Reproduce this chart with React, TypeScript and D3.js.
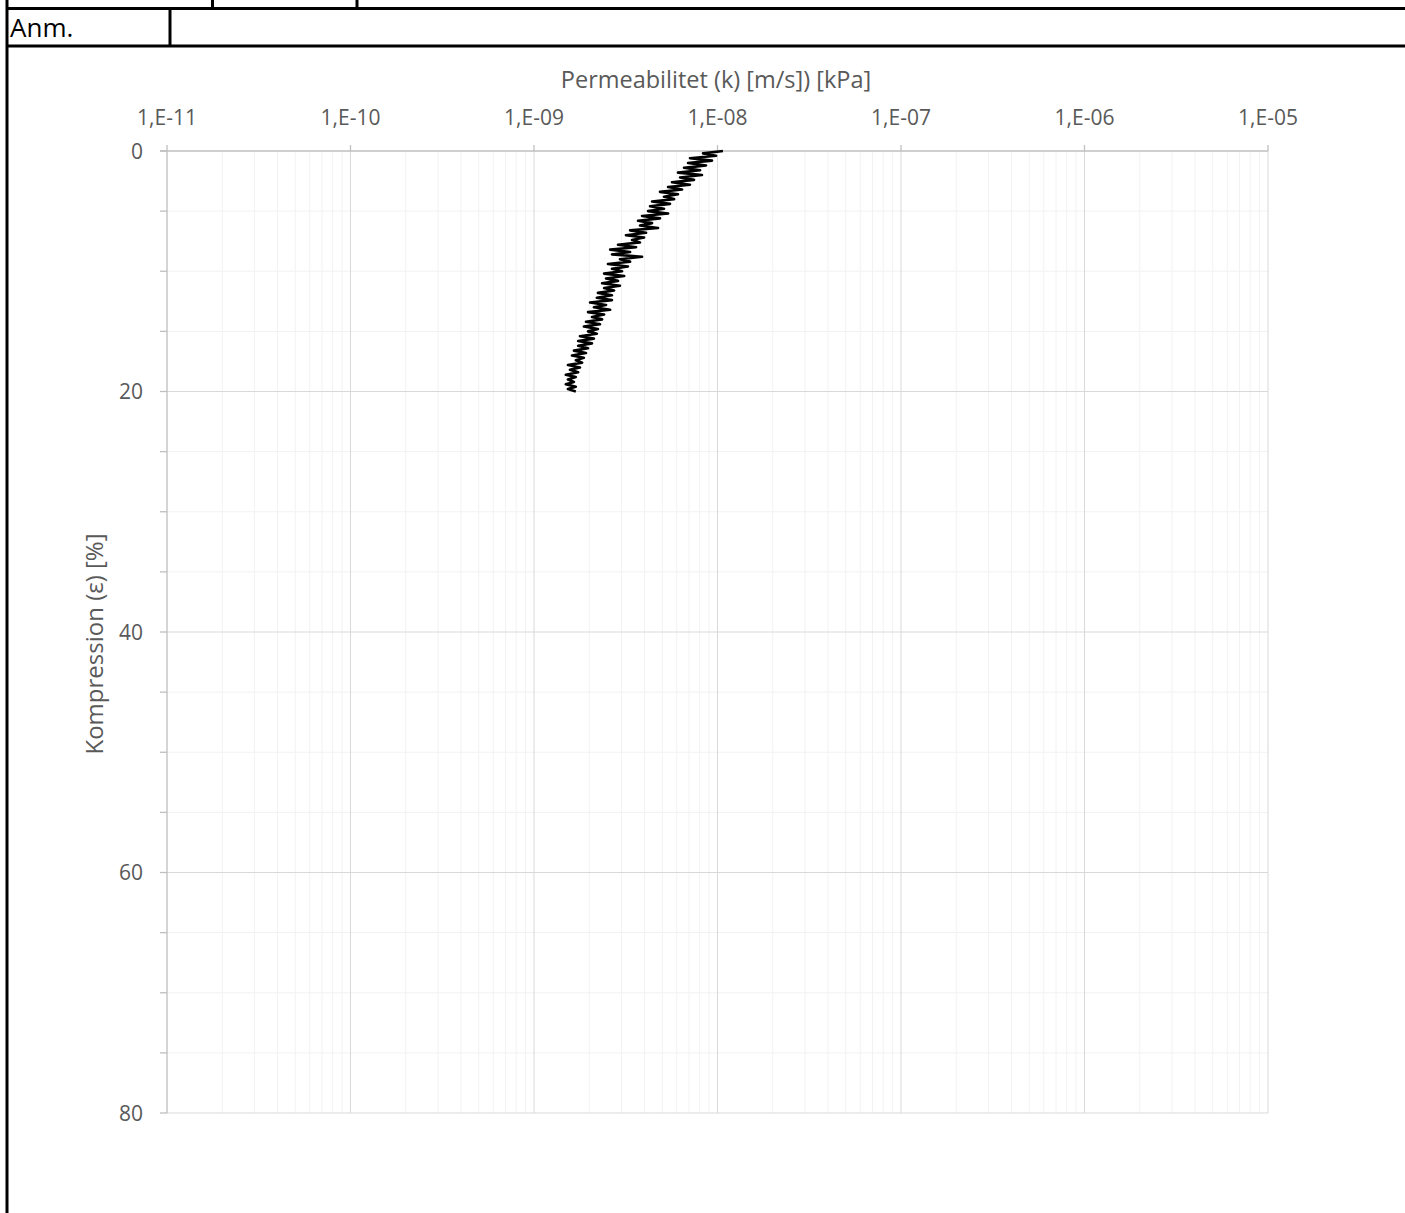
import React from "react";
import * as d3 from "d3";

// Kompression (%) vs permeabilitet (m/s)
const epsValues = [
  0, 0.2, 0.4, 0.6, 0.8, 1.0, 1.2, 1.4, 1.6, 1.8,
  2.0, 2.2, 2.4, 2.6, 2.8, 3.0, 3.2, 3.4, 3.6, 3.8,
  4.0, 4.2, 4.4, 4.6, 4.8, 5.0, 5.2, 5.4, 5.6, 5.8,
  6.0, 6.2, 6.4, 6.6, 6.8, 7.0, 7.2, 7.4, 7.6, 7.8,
  8.0, 8.2, 8.4, 8.6, 8.8, 9.0, 9.2, 9.4, 9.6, 9.8,
  10.0, 10.2, 10.4, 10.6, 10.8, 11.0, 11.2, 11.4, 11.6, 11.8,
  12.0, 12.2, 12.4, 12.6, 12.8, 13.0, 13.2, 13.4, 13.6, 13.8,
  14.0, 14.2, 14.4, 14.6, 14.8, 15.0, 15.2, 15.4, 15.6, 15.8,
  16.0, 16.2, 16.4, 16.6, 16.8, 17.0, 17.2, 17.4, 17.6, 17.8,
  18.0, 18.2, 18.4, 18.6, 18.8, 19.0, 19.2, 19.4, 19.6, 19.8,
  20.0,
];

const kValues = [
  10.71e-9, 8.34e-9, 9.82e-9, 7.08e-9, 9.33e-9, 6.91e-9, 8.66e-9, 6.57e-9, 8.03e-9, 6.09e-9,
  8.23e-9, 6.25e-9, 7.45e-9, 5.65e-9, 7.08e-9, 5.38e-9, 6.41e-9, 4.86e-9, 6.09e-9, 5.11e-9,
  5.8e-9, 4.4e-9, 5.51e-9, 4.29e-9, 5.11e-9, 4.18e-9, 5.38e-9, 3.88e-9, 4.86e-9, 3.69e-9,
  4.4e-9, 3.78e-9, 4.74e-9, 3.34e-9, 4.08e-9, 3.17e-9, 3.98e-9, 3.42e-9, 3.78e-9, 2.87e-9,
  3.6e-9, 2.6e-9, 3.34e-9, 2.66e-9, 3.88e-9, 2.94e-9, 3.34e-9, 2.53e-9, 3.25e-9, 2.66e-9,
  3.02e-9, 2.41e-9, 3.1e-9, 2.47e-9, 2.87e-9, 2.35e-9, 2.94e-9, 2.41e-9, 2.73e-9, 2.23e-9,
  2.66e-9, 2.2e-9, 2.66e-9, 2.02e-9, 2.47e-9, 2.12e-9, 2.6e-9, 1.97e-9, 2.41e-9, 2.07e-9,
  2.35e-9, 1.92e-9, 2.29e-9, 1.87e-9, 2.23e-9, 1.97e-9, 2.2e-9, 1.78e-9, 2.12e-9, 1.74e-9,
  2.07e-9, 1.74e-9, 1.97e-9, 1.65e-9, 1.92e-9, 1.61e-9, 1.87e-9, 1.69e-9, 1.83e-9, 1.53e-9,
  1.78e-9, 1.57e-9, 1.74e-9, 1.49e-9, 1.69e-9, 1.53e-9, 1.65e-9, 1.49e-9, 1.69e-9, 1.53e-9,
  1.69e-9,
];

const xDecades = [1e-11, 1e-10, 1e-9, 1e-8, 1e-7, 1e-6, 1e-5];
const xTickLabels = ["1,E-11", "1,E-10", "1,E-09", "1,E-08", "1,E-07", "1,E-06", "1,E-05"];
const yMajor = [0, 20, 40, 60, 80];
const yMinor = [5, 10, 15, 25, 30, 35, 45, 50, 55, 65, 70, 75];

const W = 1405;
const H = 1213;
const font = "'Open Sans', 'Liberation Sans', sans-serif";
const textGray = "#595959";

export default function App() {
  const x = d3.scaleLog().domain([1e-11, 1e-5]).range([167, 1268]);
  const y = d3.scaleLinear().domain([0, 80]).range([151, 1113]);

  const xMinor: number[] = [];
  xDecades.slice(0, -1).forEach((d) => {
    for (let m = 2; m <= 9; m++) xMinor.push(m * d);
  });

  const pts = epsValues.map((e, i) => ({ e, k: kValues[i] }));
  const line = d3
    .line<{ e: number; k: number }>()
    .x((d) => x(d.k))
    .y((d) => y(d.e));

  const [x0, x1] = x.range();
  const [y0, y1] = y.range();

  return (
    <svg
      width={W}
      height={H}
      style={{ position: "absolute", left: 0, top: 0, background: "#fff" }}
    >
      {/* form table lines */}
      <g stroke="#000" strokeWidth={3}>
        <line x1={7} x2={7} y1={0} y2={H} />
        <line x1={7} x2={W} y1={8.5} y2={8.5} />
        <line x1={7} x2={W} y1={46} y2={46} />
        <line x1={212.5} x2={212.5} y1={0} y2={8} />
        <line x1={357} x2={357} y1={0} y2={8} />
        <line x1={170} x2={170} y1={8} y2={46} />
      </g>
      <text x={10} y={37} fontFamily={font} fontSize={26} fill="#000">
        Anm.
      </text>

      {/* minor grid */}
      <g stroke="#f2f2f2" strokeWidth={1}>
        {xMinor.map((v) => (
          <line key={"xm" + v} x1={x(v)} x2={x(v)} y1={y0} y2={y1} />
        ))}
        {yMinor.map((v) => (
          <line key={"ym" + v} x1={x0} x2={x1} y1={y(v)} y2={y(v)} />
        ))}
      </g>
      {/* major grid */}
      <g stroke="#d9d9d9" strokeWidth={1}>
        {xDecades.slice(1).map((v) => (
          <line key={"xM" + v} x1={x(v)} x2={x(v)} y1={y0} y2={y1} />
        ))}
        {yMajor.slice(1).map((v) => (
          <line key={"yM" + v} x1={x0} x2={x1} y1={y(v)} y2={y(v)} />
        ))}
      </g>

      {/* axes */}
      <g stroke="#bfbfbf" strokeWidth={1.3}>
        <line x1={x0 - 7} x2={x1} y1={y0} y2={y0} />
        <line x1={x0} x2={x0} y1={y0} y2={y1} />
        {xDecades.map((v) => (
          <line key={"xt" + v} x1={x(v)} x2={x(v)} y1={y0 - 6} y2={y0} />
        ))}
        {[...yMajor, ...yMinor].map((v) => (
          <line key={"yt" + v} x1={x0 - 7} x2={x0} y1={y(v)} y2={y(v)} />
        ))}
      </g>

      <g fontFamily={font} fontSize={21} fill={textGray}>
        {xDecades.map((v, i) => (
          <text key={"xl" + v} x={x(v)} y={y0 - 26} textAnchor="middle">
            {xTickLabels[i]}
          </text>
        ))}
        {yMajor.map((v) => (
          <text key={"yl" + v} x={x0 - 24} y={y(v)} dy="0.36em" textAnchor="end">
            {v}
          </text>
        ))}
        <text x={716} y={88} textAnchor="middle" fontSize={23.5}>
          Permeabilitet (k) [m/s]) [kPa]
        </text>
        <text
          transform="translate(103,644) rotate(-90)"
          textAnchor="middle"
          fontSize={24}
        >
          Kompression (ε) [%]
        </text>
      </g>

      <path d={line(pts) || ""} fill="none" stroke="#000" strokeWidth={2.6} strokeLinejoin="round" />
    </svg>
  );
}
